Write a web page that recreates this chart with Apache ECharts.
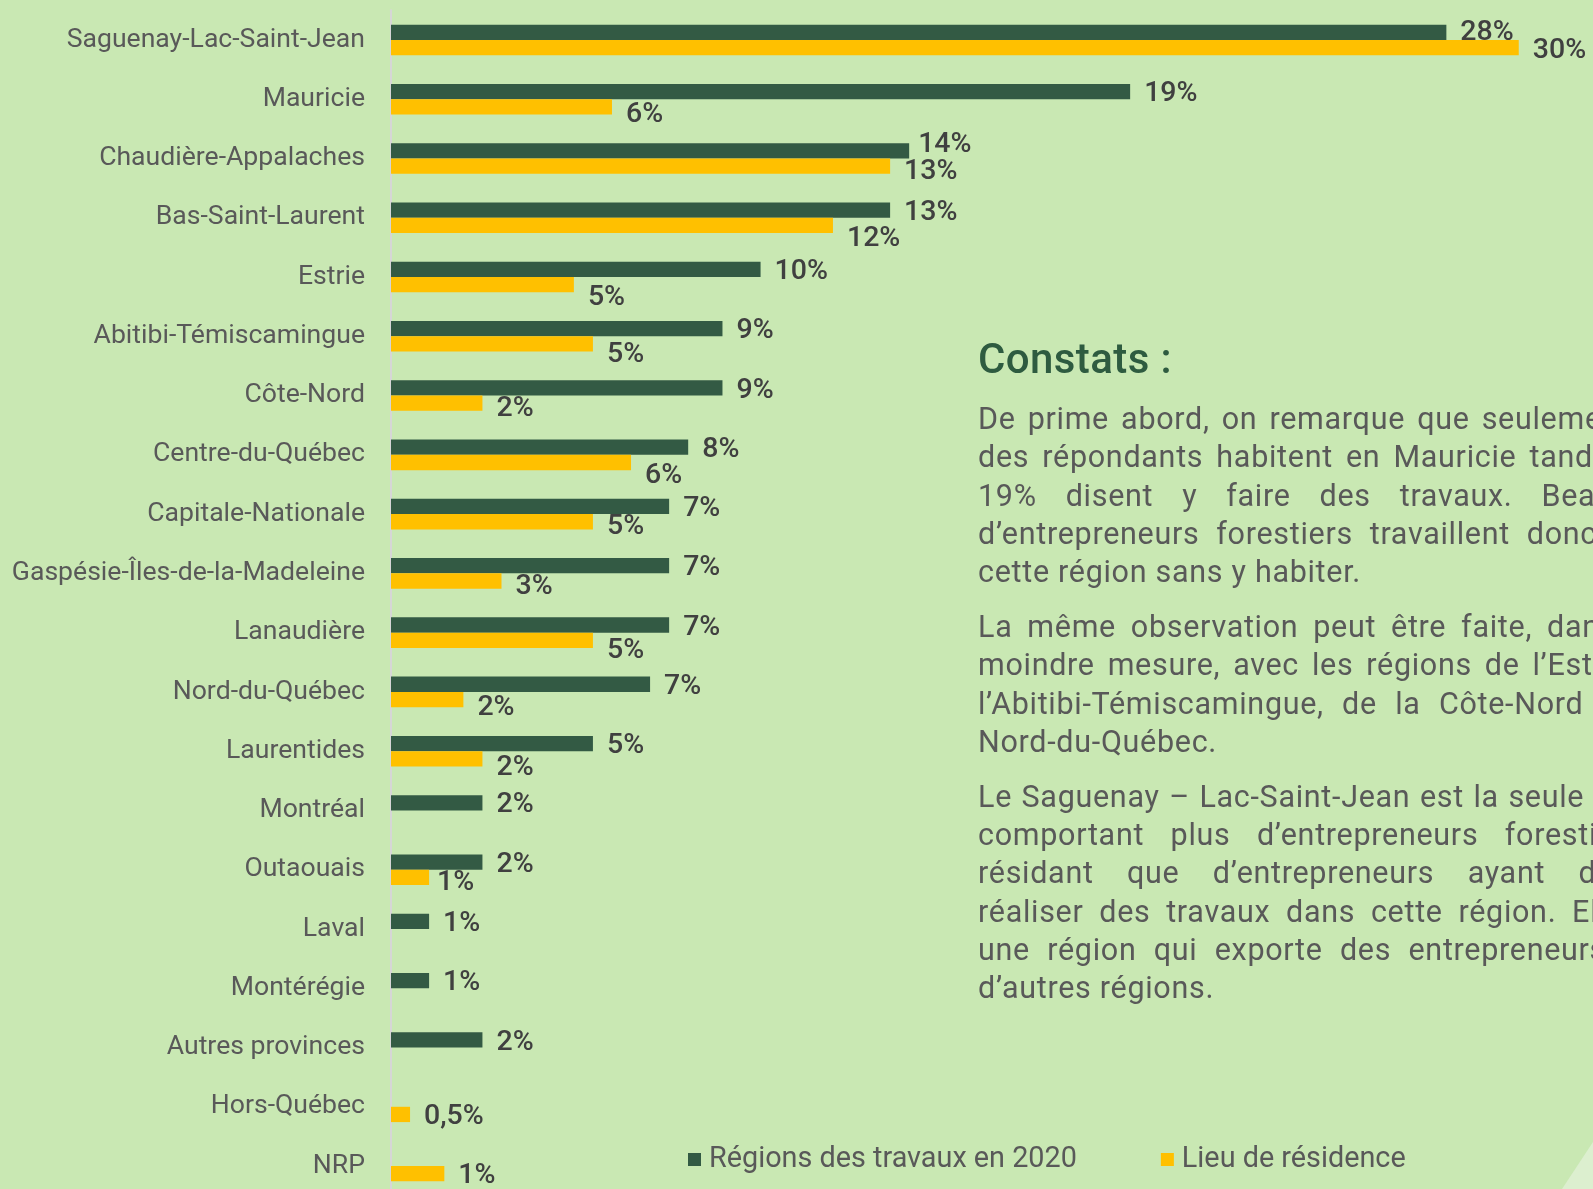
<!DOCTYPE html>
<html>
<head>
<meta charset="utf-8">
<script src="https://cdn.jsdelivr.net/npm/echarts@6/dist/echarts.min.js"></script>
<style>
html,body{margin:0;padding:0;overflow:hidden;background:#c9e8b3;width:1593px;height:1189px;}
#chart{position:absolute;left:0;top:0;width:1700px;height:1215px;}
#notes{position:absolute;left:978px;top:0;width:1400px;font-family:Roboto,"Noto Sans",sans-serif;color:#595959;}
#notes h2{position:absolute;left:0;top:333.5px;margin:0;font-size:42px;letter-spacing:0.4px;line-height:50px;font-weight:500;color:#2e5b40;white-space:nowrap;}
#body{position:absolute;left:0;top:400.4px;width:705px;font-size:30.5px;letter-spacing:0.7px;line-height:38.1px;}
#body p{margin:0 0 17.5px 0;}
#body .j{display:block;text-align:justify;text-align-last:justify;white-space:nowrap;}
#body .l{display:block;text-align:left;white-space:nowrap;}
</style>
</head>
<body>
<div id="chart"></div>
<div id="notes">
  <h2>Constats :</h2>
  <div id="body"></div>
</div>
<script>
// ---- data ----
const categories = [
  'Saguenay-Lac-Saint-Jean','Mauricie','Chaudière-Appalaches','Bas-Saint-Laurent','Estrie',
  'Abitibi-Témiscamingue','Côte-Nord','Centre-du-Québec','Capitale-Nationale','Gaspésie-Îles-de-la-Madeleine',
  'Lanaudière','Nord-du-Québec','Laurentides','Montréal','Outaouais','Laval','Montérégie',
  'Autres provinces','Hors-Québec','NRP'
];
const seriesNames = ['Régions des travaux en 2020', 'Lieu de résidence'];
const travaux = [27.7, 19.4, 13.6, 13.1, 9.7, 8.7, 8.7, 7.8, 7.3, 7.3, 7.3, 6.8, 5.3, 2.4, 2.4, 1.0, 1.0, 2.4, null, null];
const residence = [29.6, 5.8, 13.1, 11.6, 4.8, 5.3, 2.4, 6.3, 5.3, 2.9, 5.3, 1.9, 2.4, null, 1.0, null, null, null, 0.5, 1.4];

const noteParagraphs = [
  ['De prime abord, on remarque que seulement 6%',
   'des répondants habitent en Mauricie tandis que',
   '19% disent y faire des travaux. Beaucoup',
   'd’entrepreneurs forestiers travaillent donc dans',
   'cette région sans y habiter.'],
  ['La même observation peut être faite, dans une',
   'moindre mesure, avec les régions de l’Estrie, de',
   'l’Abitibi-Témiscamingue, de la Côte-Nord et du',
   'Nord-du-Québec.'],
  ['Le Saguenay – Lac-Saint-Jean est la seule région',
   'comportant plus d’entrepreneurs forestiers y',
   'résidant que d’entrepreneurs ayant déclaré',
   'réaliser des travaux dans cette région. Elle est',
   'une région qui exporte des entrepreneurs vers',
   'd’autres régions.']
];

// ---- layout nudges for value labels (px shifts, as placed in the original) ----
const greenNudgeY = [-2,0,-8,0,0,0,0,0,0,0,0,0,0,0,0,0,0,0,0,0];
const greenNudgeX = [0,0,-5,0,0,0,0,0,0,0,0,0,0,0,0,0,0,0,0,0];
const yellowNudgeY = [1,6,3,11,11,8,3,11,3,3,8,6,7,0,3,0,0,0,0,0];
const yellowNudgeX = [0,0,0,0,0,0,0,0,0,0,0,0,0,0,-6,0,0,0,0,0];
const labelBaseShift = 2.5;

// ---- notes text ----
const body = document.getElementById('body');
noteParagraphs.forEach(lines => {
  const p = document.createElement('p');
  lines.forEach((t, i) => {
    const s = document.createElement('span');
    s.className = (i === lines.length - 1) ? 'l' : 'j';
    s.textContent = t;
    p.appendChild(s);
  });
  body.appendChild(p);
});

// ---- chart ----
const fmt = p => {
  const v = p.value;
  if (v == null) return '';
  return (v < 1 ? v.toFixed(1).replace('.', ',') : Math.round(v)) + '%';
};
const labelBase = {
  show: true, position: 'right', distance: 14, formatter: fmt,
  fontFamily: 'Roboto', fontSize: 28.5, fontWeight: 500, color: '#404040'
};
const mk = (arr, nx, ny) => arr.map((v, i) => ({
  value: v, label: { offset: [nx[i], ny[i] + labelBaseShift] }
}));

const chart = echarts.init(document.getElementById('chart'), null, {renderer: 'canvas'});
chart.setOption({
  backgroundColor: '#c9e8b3',
  animation: false,
  grid: { left: 391, top: 10.3, width: 1219.2, height: 1185.4, containLabel: false },
  xAxis: { type: 'value', min: 0, max: 32, show: false },
  yAxis: {
    type: 'category', data: categories, inverse: true,
    axisLine: { show: true, lineStyle: { color: '#d6d6d6', width: 2 } },
    axisTick: { show: false },
    axisLabel: { margin: 26, fontFamily: 'Roboto', fontSize: 26.6, color: '#595959' }
  },
  legend: {
    left: 683, top: 1140, itemWidth: 13, itemHeight: 13, itemGap: 84, icon: 'rect',
    textStyle: { fontFamily: 'Roboto', fontSize: 28.8, color: '#595959', padding: [0, 0, 0, 3] },
    data: seriesNames
  },
  graphic: [{
    type: 'polygon', silent: true,
    shape: { points: [[1593, 1142], [1593, 1189], [1562, 1189]] },
    style: { fill: '#dcefcf' }
  }],
  series: [
    { name: seriesNames[0], type: 'bar', barWidth: 15.3, barGap: '0%',
      itemStyle: { color: '#335a44' }, label: labelBase, data: mk(travaux, greenNudgeX, greenNudgeY) },
    { name: seriesNames[1], type: 'bar', barWidth: 15.3, barGap: '0%',
      itemStyle: { color: '#ffc000' }, label: labelBase, data: mk(residence, yellowNudgeX, yellowNudgeY) }
  ]
});
</script>
</body>
</html>
